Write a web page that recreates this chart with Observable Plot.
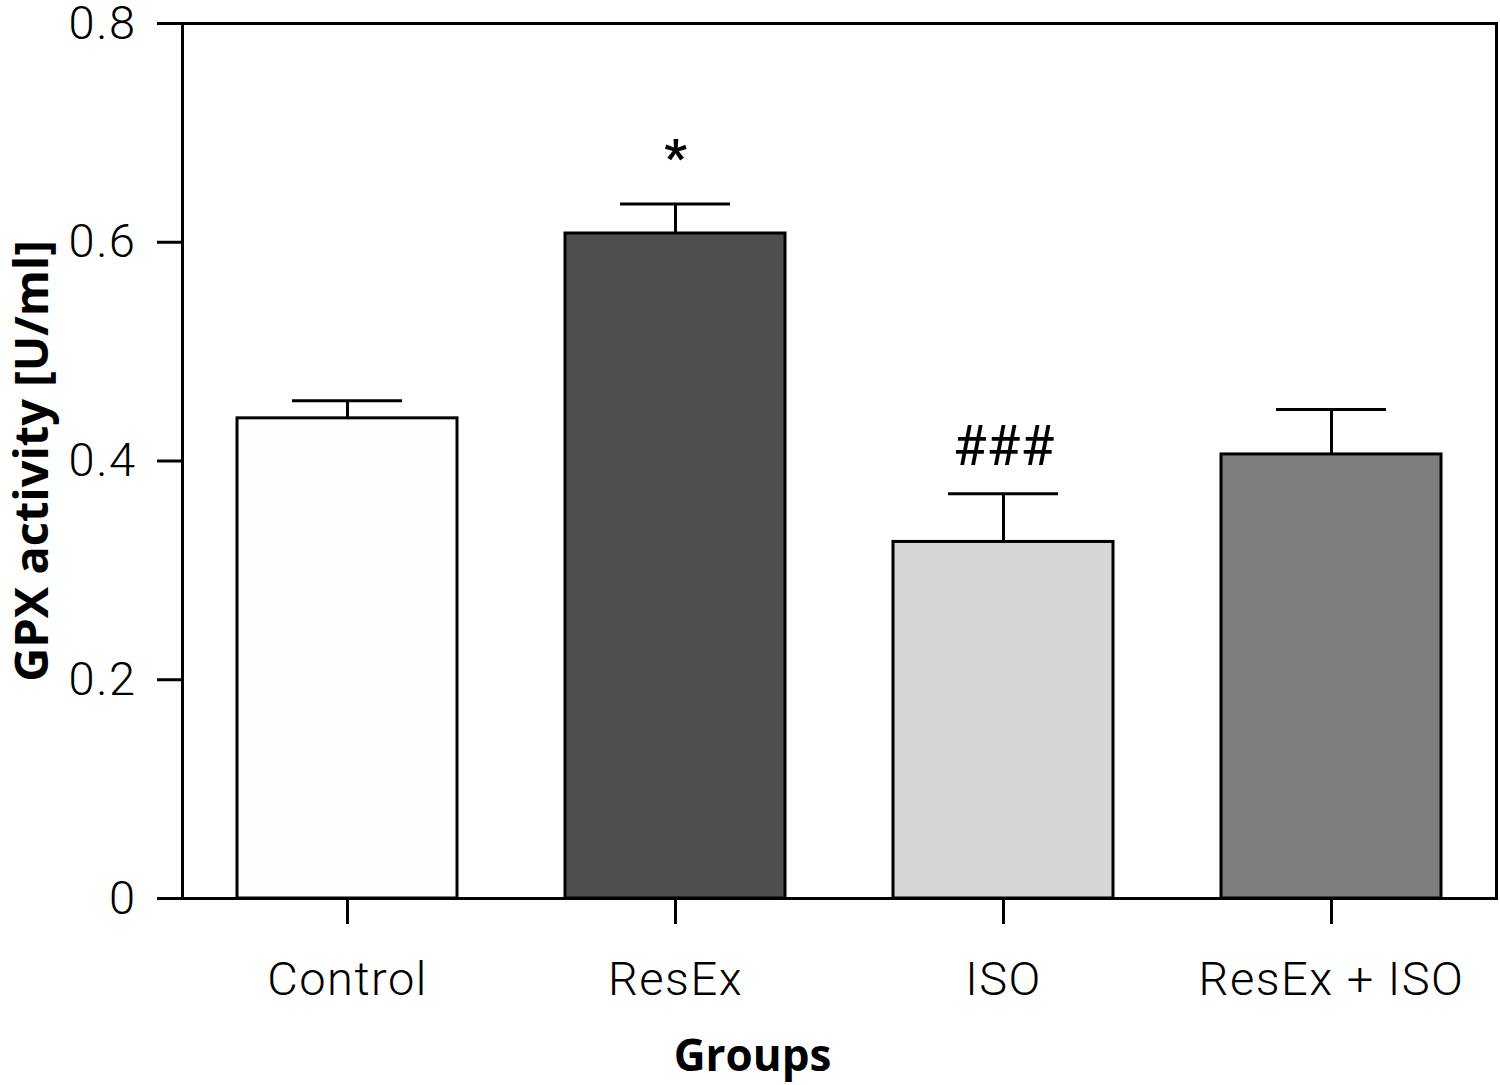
<!DOCTYPE html>
<html><head><meta charset="utf-8">
<script src="https://cdn.jsdelivr.net/npm/d3@7"></script>
<script src="https://cdn.jsdelivr.net/npm/@observablehq/plot@0.6"></script>
<style>
body{margin:0;background:#fff}
#chart{position:absolute;left:0;top:0}
g[aria-label="x-axis tick label"] text, g[aria-label="y-axis tick label"] text{letter-spacing:1.5px}
g[aria-label="x-title"] text{letter-spacing:1px}
g[aria-label="y-title"] text{letter-spacing:0.4px}
</style>
</head><body><div id="chart"></div>
<script>
const groups = ["Control", "ResEx", "ISO", "ResEx + ISO"];
const means = [0.439, 0.608, 0.326, 0.406];
const errors = [0.016, 0.027, 0.044, 0.041];
const fills = ["#fdfdfd", "#4f4f4f", "#d6d6d6", "#7f7f7f"];
const stars = ["", "*", "", ""];
const hashes = ["", "", "###", ""];
const yTicks = [0, 0.2, 0.4, 0.6, 0.8];
const xTitle = "Groups";
const yTitle = "GPX activity [U/ml]";

const data = groups.map((g, i) => ({
  group: g, mean: means[i], top: means[i] + errors[i],
  fill: fills[i], star: stars[i], hash: hashes[i]
}));

const chart = Plot.plot({
  width: 1500, height: 1085,
  marginLeft: 182, marginTop: 23, marginRight: 4, marginBottom: 187,
  style: {fontFamily: "Roboto", color: "black", background: "white", overflow: "visible"},
  x: {domain: groups, paddingInner: 0.33, paddingOuter: 0.165, label: null},
  y: {domain: [0, 0.8], label: null},
  color: {type: "identity"},
  marks: [
    Plot.ruleX(data, {x: "group", y1: "mean", y2: "top", stroke: "black", strokeWidth: 3}),
    Plot.tickY(data, {x: "group", y: "top", stroke: "black", strokeWidth: 3, insetLeft: 55, insetRight: 55}),
    Plot.barY(data, {x: "group", y: "mean", fill: "fill", stroke: "black", strokeWidth: 3}),
    Plot.text(data, {x: "group", y: "top", text: "star", dy: -45, fontSize: 50, fontWeight: "bold", lineAnchor: "middle"}),
    Plot.text(data, {x: "group", y: "top", text: "hash", dy: -46, fontSize: 55, lineAnchor: "middle"}),
    Plot.frame({stroke: "black", strokeWidth: 3}),
    Plot.axisY(yTicks, {tickSize: 25, tickPadding: 21, strokeWidth: 3, fontSize: 47, fontWeight: 300, label: null,
      tickFormat: d => d === 0 ? "0" : d.toFixed(1)}),
    Plot.axisX({tickSize: 26, tickPadding: 37, strokeWidth: 3, fontSize: 47, fontWeight: 300, label: null}),
    Plot.text([xTitle], {ariaLabel: "x-title", frameAnchor: "bottom", dx: -87, dy: 158, fontSize: 44, fontFamily: "Open Sans", fontWeight: "bold", lineAnchor: "middle"}),
    Plot.text([yTitle], {ariaLabel: "y-title", frameAnchor: "left", dx: -150, rotate: -90, textAnchor: "middle", fontSize: 47, fontFamily: "Open Sans", fontWeight: "bold", lineAnchor: "middle"})
  ]
});
document.getElementById("chart").appendChild(chart);
</script>
</body></html>
